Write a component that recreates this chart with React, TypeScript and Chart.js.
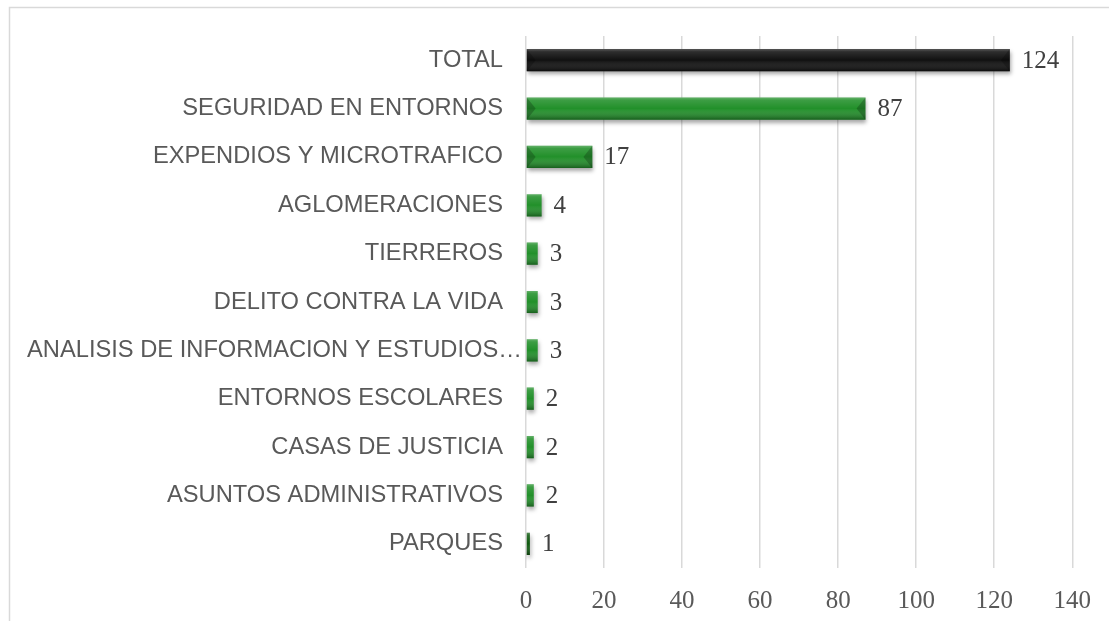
import React, { useEffect, useRef } from "react";
import { Chart, registerables } from "chart.js";

Chart.register(...registerables);

const categories = [
  "TOTAL",
  "SEGURIDAD EN ENTORNOS",
  "EXPENDIOS Y MICROTRAFICO",
  "AGLOMERACIONES",
  "TIERREROS",
  "DELITO CONTRA LA VIDA",
  "ANALISIS DE INFORMACION Y ESTUDIOS…",
  "ENTORNOS ESCOLARES",
  "CASAS DE JUSTICIA",
  "ASUNTOS ADMINISTRATIVOS",
  "PARQUES",
];
const values = [124, 87, 17, 4, 3, 3, 3, 2, 2, 2, 1];
const barColors = ["#111111", "#22902a", "#22902a", "#22902a", "#22902a", "#22902a", "#22902a", "#22902a", "#22902a", "#22902a", "#0f5a0f"];
const xMin = 0;
const xMax = 140;
const xStep = 20;

const framePlugin = {
  id: "frame",
  beforeDraw(chart: any) {
    const ctx = chart.ctx;
    ctx.save();
    ctx.fillStyle = "#ffffff";
    ctx.fillRect(0, 0, chart.width, chart.height);
    ctx.strokeStyle = "#d9d9d9";
    ctx.lineWidth = 1.5;
    ctx.beginPath();
    ctx.moveTo(9.5, chart.height);
    ctx.lineTo(9.5, 7.5);
    ctx.lineTo(chart.width, 7.5);
    ctx.stroke();
    ctx.restore();
  },
};

const categoryLabelPlugin = {
  id: "catLabels",
  afterDraw(chart: any) {
    const ctx = chart.ctx;
    const y = chart.scales.y;
    ctx.save();
    ctx.fillStyle = "#595959";
    ctx.font = "23.7px 'Liberation Sans', Arial, sans-serif";
    ctx.textBaseline = "middle";
    const rightEdge = y.right - 23;
    const minLeft = 27;
    categories.forEach((label, i) => {
      const py = y.getPixelForTick(i);
      const w = ctx.measureText(label).width;
      if (rightEdge - w < minLeft) {
        ctx.textAlign = "left";
        ctx.fillText(label, minLeft, py);
      } else {
        ctx.textAlign = "right";
        ctx.fillText(label, rightEdge, py);
      }
    });
    ctx.restore();
  },
};

const barStylePlugin = {
  id: "barStyle",
  beforeDatasetsDraw(chart: any) {
    const ctx = chart.ctx;
    ctx.save();
    ctx.shadowColor = "rgba(0,0,0,0.35)";
    ctx.shadowBlur = 4;
    ctx.shadowOffsetX = 1;
    ctx.shadowOffsetY = 3;
  },
  afterDatasetsDraw(chart: any) {
    const ctx = chart.ctx;
    ctx.restore();
    const meta = chart.getDatasetMeta(0);
    ctx.save();
    meta.data.forEach((el: any, i: number) => {
      const h = el.height;
      const top = el.y - h / 2;
      const left = Math.min(el.base, el.x);
      const w = Math.abs(el.x - el.base);
      const g = ctx.createLinearGradient(0, top, 0, top + h);
      g.addColorStop(0, "rgba(255,255,255,0.30)");
      g.addColorStop(0.12, "rgba(255,255,255,0.12)");
      g.addColorStop(0.5, "rgba(255,255,255,0)");
      g.addColorStop(1, "rgba(0,0,0,0.35)");
      ctx.fillStyle = g;
      ctx.fillRect(left, top, w, h);
      if (w > 20) {
        const d = Math.min(h * 0.4, w * 0.2);
        ctx.fillStyle = "rgba(0,0,0,0.22)";
        ctx.beginPath();
        ctx.moveTo(left, top);
        ctx.lineTo(left + d, el.y);
        ctx.lineTo(left, top + h);
        ctx.closePath();
        ctx.fill();
        ctx.beginPath();
        ctx.moveTo(left + w, top);
        ctx.lineTo(left + w - d, el.y);
        ctx.lineTo(left + w, top + h);
        ctx.closePath();
        ctx.fill();
      }
      ctx.fillStyle = "#404040";
      ctx.font = "25px 'Liberation Serif', serif";
      ctx.textAlign = "left";
      ctx.textBaseline = "middle";
      ctx.fillText(String(values[i]), el.x + 12, el.y + 1);
    });
    ctx.restore();
  },
};

export default function App() {
  const ref = useRef<HTMLCanvasElement | null>(null);
  useEffect(() => {
    if (!ref.current) return;
    const chart = new Chart(ref.current, {
      type: "bar",
      data: {
        labels: categories,
        datasets: [
          {
            data: values,
            backgroundColor: barColors,
            borderWidth: 0,
            barPercentage: 0.46,
            categoryPercentage: 1,
          },
        ],
      },
      options: {
        indexAxis: "y",
        animation: false,
        responsive: false,
        maintainAspectRatio: false,
        layout: { padding: { top: 36, right: 36, bottom: 0, left: 0 } },
        plugins: { legend: { display: false }, tooltip: { enabled: false } },
        scales: {
          x: {
            min: xMin,
            max: xMax,
            ticks: {
              stepSize: xStep,
              color: "#595959",
              font: { family: "'Liberation Serif', serif", size: 25 },
              padding: 18,
            },
            grid: { color: "#d9d9d9", lineWidth: 1.5, drawTicks: false },
            border: { display: false },
            afterFit(scale: any) {
              scale.height = 53;
            },
          },
          y: {
            ticks: { display: false, autoSkip: false },
            grid: { display: false, drawTicks: false },
            border: { display: false },
            afterFit(scale: any) {
              scale.width = 526;
            },
          },
        },
      },
      plugins: [framePlugin, barStylePlugin, categoryLabelPlugin],
    });
    return () => chart.destroy();
  }, []);
  return (
    <div style={{ position: "fixed", left: 0, top: 0, width: 1109, height: 621, background: "#fff" }}>
      <canvas ref={ref} width={1109} height={621} style={{ display: "block" }} />
    </div>
  );
}
